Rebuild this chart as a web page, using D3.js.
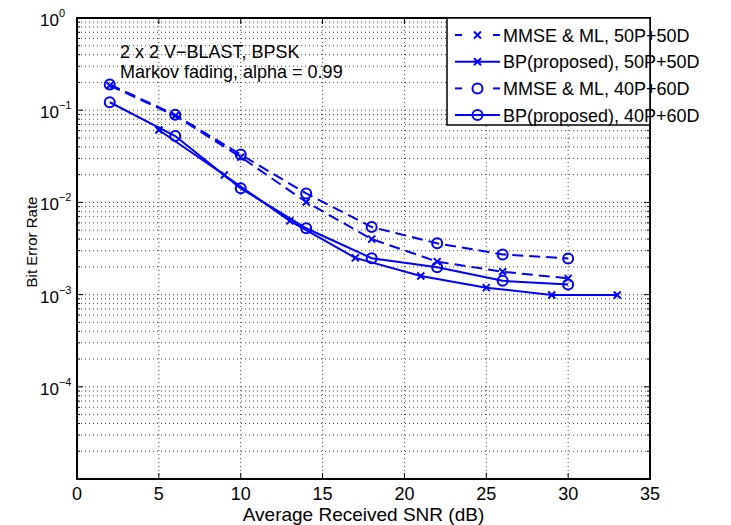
<!DOCTYPE html>
<html><head><meta charset="utf-8">
<script src="https://cdn.jsdelivr.net/npm/d3@7"></script>
<style>body{margin:0;background:#fff}svg{display:block}text{font-family:"Liberation Sans",Arial,sans-serif;fill:#000}</style>
</head><body>
<svg id="c" width="731" height="525"></svg>
<script>
const snrA = [2, 6, 10, 14, 18, 22, 26, 30];
const snrB = [5, 9, 13, 17, 21, 25, 29, 33];
const mmse50 = [0.185, 0.087, 0.031, 0.0101, 0.0040, 0.00228, 0.00177, 0.0015];
const bp50 = [0.061, 0.0198, 0.0063, 0.0025, 0.00159, 0.00119, 0.00099, 0.00099];
const mmse40 = [0.19, 0.089, 0.033, 0.0125, 0.0054, 0.0036, 0.00273, 0.00247];
const bp40 = [0.122, 0.0525, 0.0142, 0.00524, 0.00248, 0.00198, 0.00141, 0.00129];
const legendLabels = ["MMSE & ML, 50P+50D", "BP(proposed), 50P+50D", "MMSE & ML, 40P+60D", "BP(proposed), 40P+60D"];
const xTicks = [0, 5, 10, 15, 20, 25, 30, 35];
const yExps = [0, -1, -2, -3, -4];
const notes = ["2 x 2 V\u2212BLAST, BPSK", "Markov fading, alpha = 0.99"];

const series = [
  {x: snrA, y: mmse50, dash: true, marker: "x"},
  {x: snrB, y: bp50, dash: false, marker: "x"},
  {x: snrA, y: mmse40, dash: true, marker: "o"},
  {x: snrA, y: bp40, dash: false, marker: "o"}
];

const L = 77, R = 650, T = 18, B = 479;
const x = d3.scaleLinear().domain([0, 35]).range([L, R]);
const y = d3.scaleLog().domain([1e-5, 1]).range([B, T]);
const blue = "#0000ff";
const svg = d3.select("#c");

// grid
const g = svg.append("g");
const minorVals = [];
for (let e = -5; e < 0; e++) for (let m = 1; m < 10; m++) minorVals.push(m * Math.pow(10, e));
g.selectAll(".gy").data(minorVals.filter(v => v > 1e-5 && v < 1)).enter().append("line")
  .attr("x1", L).attr("x2", R).attr("y1", d => y(d)).attr("y2", d => y(d))
  .attr("stroke", "#444").attr("stroke-width", 1).attr("stroke-dasharray", "1,3");
g.selectAll(".gx").data(xTicks.filter(v => v > 0 && v < 35)).enter().append("line")
  .attr("x1", d => x(d)).attr("x2", d => x(d)).attr("y1", T).attr("y2", B)
  .attr("stroke", "#444").attr("stroke-width", 1).attr("stroke-dasharray", "1,3");

// ticks
const tk = svg.append("g").attr("stroke", "#000").attr("stroke-width", 1);
xTicks.forEach(v => {
  tk.append("line").attr("x1", x(v)).attr("x2", x(v)).attr("y1", B).attr("y2", B - 6);
  tk.append("line").attr("x1", x(v)).attr("x2", x(v)).attr("y1", T).attr("y2", T + 6);
});
minorVals.concat([1]).forEach(v => {
  const major = Math.abs(Math.log10(v) - Math.round(Math.log10(v))) < 1e-9;
  const len = major ? 6 : 3;
  tk.append("line").attr("x1", L).attr("x2", L + len).attr("y1", y(v)).attr("y2", y(v));
  tk.append("line").attr("x1", R).attr("x2", R - len).attr("y1", y(v)).attr("y2", y(v));
});

// frame
svg.append("rect").attr("x", L).attr("y", T).attr("width", R - L).attr("height", B - T)
  .attr("fill", "none").attr("stroke", "#000").attr("stroke-width", 2);

// tick labels
svg.append("g").selectAll("text").data(xTicks).enter().append("text")
  .attr("x", d => x(d)).attr("y", 500).attr("text-anchor", "middle")
  .attr("font-size", 18).text(d => d);
const yl = svg.append("g").selectAll("text").data(yExps).enter().append("text")
  .attr("x", 40).attr("y", d => y(Math.pow(10, d)) + 8).attr("font-size", 17);
yl.append("tspan").text("10");
yl.append("tspan").attr("dy", -9).attr("font-size", 11).text(d => d === 0 ? "0" : "\u2212" + (-d));

svg.append("text").attr("x", (L + R) / 2).attr("y", 521).attr("text-anchor", "middle")
  .attr("font-size", 19).text("Average Received SNR (dB)");
svg.append("text").attr("transform", `translate(37,242) rotate(-90)`)
  .attr("text-anchor", "middle").attr("font-size", 15).text("Bit Error Rate");

// notes
svg.append("g").selectAll("text").data(notes).enter().append("text")
  .attr("x", 120).attr("y", (d, i) => 58 + i * 20).attr("font-size", 18).text(d => d);

// series
function drawMarker(sel, type, cx, cy) {
  if (type === "o") {
    sel.append("circle").attr("cx", cx).attr("cy", cy).attr("r", 5)
      .attr("fill", "none").attr("stroke", blue).attr("stroke-width", 2);
  } else {
    const s = 3.5;
    sel.append("path").attr("d", `M${cx - s},${cy - s}L${cx + s},${cy + s}M${cx - s},${cy + s}L${cx + s},${cy - s}`)
      .attr("stroke", blue).attr("stroke-width", 2).attr("fill", "none");
  }
}
const line = d3.line().x(d => x(d[0])).y(d => y(d[1]));
const sg = svg.append("g");
series.forEach(s => {
  const pts = s.x.map((v, i) => [v, s.y[i]]);
  sg.append("path").attr("d", line(pts)).attr("fill", "none").attr("stroke", blue)
    .attr("stroke-width", 2).attr("stroke-dasharray", s.dash ? "11,6" : null);
  pts.forEach(p => drawMarker(sg, s.marker, x(p[0]), y(p[1])));
});

// legend
const lg = svg.append("g");
lg.append("rect").attr("x", 447).attr("y", T).attr("width", R - 447).attr("height", 107)
  .attr("fill", "#fff").attr("stroke", "#000").attr("stroke-width", 1.5);
series.forEach((s, i) => {
  const cy = 35 + i * 26.7;
  if (s.dash) {
    lg.append("line").attr("x1", 455).attr("x2", 462).attr("y1", cy).attr("y2", cy).attr("stroke", blue).attr("stroke-width", 2);
    lg.append("line").attr("x1", 493).attr("x2", 500).attr("y1", cy).attr("y2", cy).attr("stroke", blue).attr("stroke-width", 2);
  } else {
    lg.append("line").attr("x1", 455).attr("x2", 500).attr("y1", cy).attr("y2", cy).attr("stroke", blue).attr("stroke-width", 2);
  }
  drawMarker(lg, s.marker, 477.5, cy);
  lg.append("text").attr("x", 503).attr("y", cy + 6.5).attr("font-size", 18).text(legendLabels[i]);
});
</script>
</body></html>
